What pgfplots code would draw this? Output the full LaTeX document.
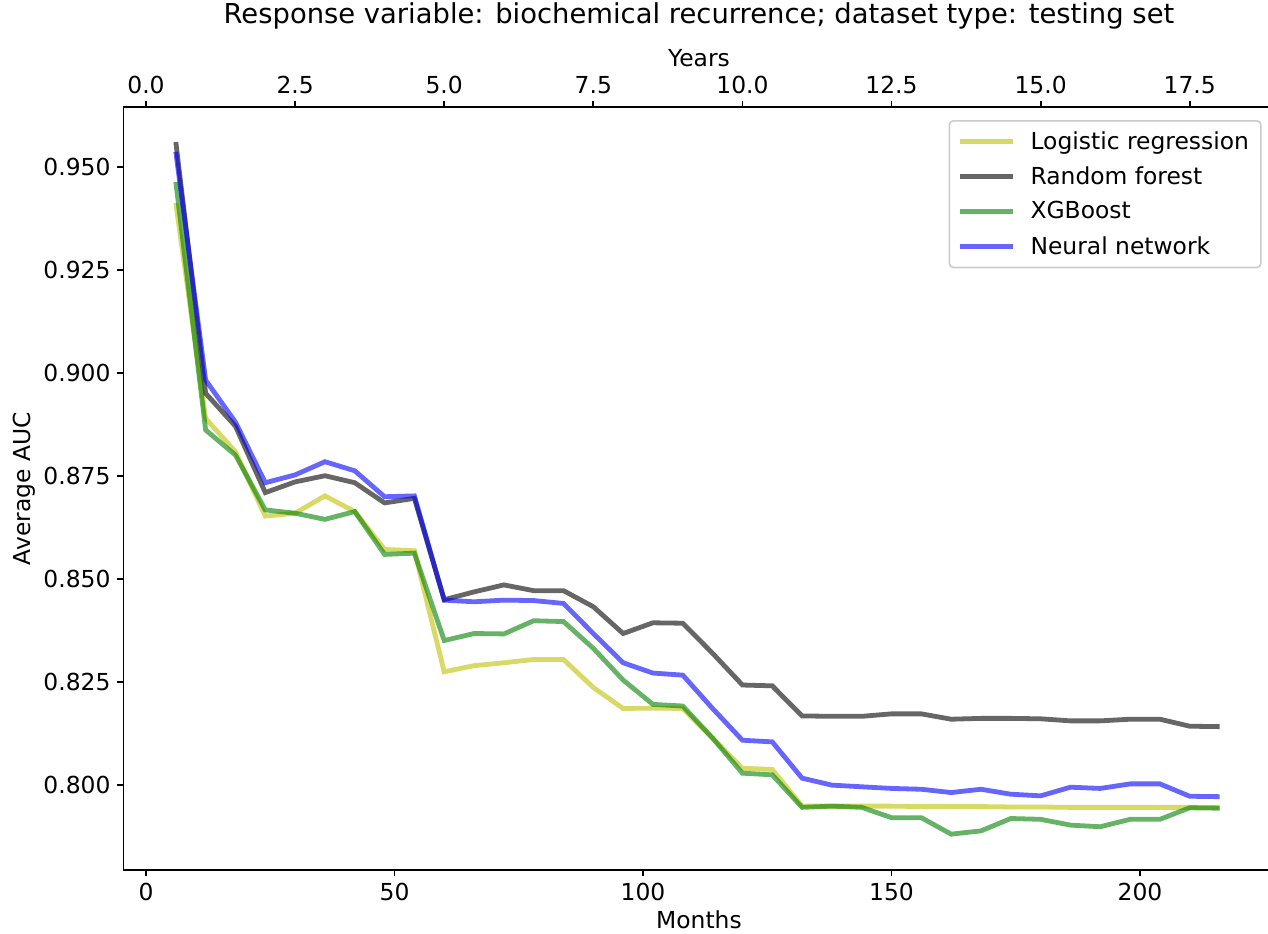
\documentclass[border=0pt]{standalone}
\usepackage{pgfplots}
\usepackage{pgfplotstable}
\pgfplotsset{compat=1.18}
\usepackage{fontspec}
\setmainfont{DejaVu Sans}

\definecolor{cY}{rgb}{0.75,0.75,0}
\definecolor{cK}{rgb}{0,0,0}
\definecolor{cG}{rgb}{0,0.5,0}
\definecolor{cB}{rgb}{0,0,1}

\pgfplotstableread{
m    lr      rf      xgb     nn
6    0.9412  0.9560  0.9463  0.9536
12   0.8889  0.8950  0.8861  0.8982
18   0.8808  0.8870  0.8800  0.8880
24   0.8652  0.8709  0.8667  0.8733
30   0.8659  0.8735  0.8659  0.8752
36   0.8701  0.8750  0.8644  0.8784
42   0.8663  0.8733  0.8663  0.8762
48   0.8571  0.8684  0.8559  0.8699
54   0.8568  0.8695  0.8562  0.8701
60   0.8274  0.8449  0.8350  0.8448
66   0.8289  0.8468  0.8367  0.8444
72   0.8296  0.8485  0.8366  0.8448
78   0.8304  0.8471  0.8398  0.8447
84   0.8304  0.8471  0.8396  0.8440
90   0.8236  0.8432  0.8331  0.8367
96   0.8185  0.8367  0.8254  0.8296
102  0.8186  0.8393  0.8195  0.8271
108  0.8185  0.8392  0.8191  0.8266
114  0.8113  0.8319  0.8113  0.8185
120  0.8040  0.8242  0.8028  0.8108
126  0.8037  0.8240  0.8024  0.8104
132  0.7948  0.8167  0.7945  0.8016
138  0.7948  0.8166  0.7948  0.7999
144  0.7948  0.8166  0.7945  0.7995
150  0.7948  0.8172  0.7920  0.7991
156  0.7947  0.8172  0.7920  0.7989
162  0.7947  0.8159  0.7880  0.7981
168  0.7947  0.8161  0.7888  0.7989
174  0.7946  0.8161  0.7918  0.7977
180  0.7946  0.8160  0.7916  0.7973
186  0.7945  0.8155  0.7902  0.7994
192  0.7945  0.8155  0.7898  0.7991
198  0.7945  0.8159  0.7916  0.8002
204  0.7945  0.8159  0.7916  0.8002
210  0.7945  0.8142  0.7944  0.7972
216  0.7945  0.8141  0.7943  0.7971
}\datatable

\newcommand{\fs}{\fontsize{11.7pt}{14pt}\selectfont}

\begin{document}
\begin{tikzpicture}
\useasboundingbox (-61.75pt,-31.5pt) rectangle (572.25pt,435pt);
\pgfplotsset{
  common/.style={
    scale only axis, width=572.25pt, height=381.35pt,
    ymin=0.7793, ymax=0.96442,
    axis line style={-, line width=0.9pt, black},
    tick align=outside, major tick length=3pt,
    every tick/.style={black, line width=0.9pt},
    tick label style={font=\fs},
    label style={font=\fs},
    /pgf/number format/assume math mode=true,
  }
}
\begin{axis}[common,
  xmin=-4.53, xmax=225.75,
  axis x line*=bottom, axis y line*=left,
  xtick={0,50,100,150,200},
  ytick={0.800,0.825,0.850,0.875,0.900,0.925,0.950},
  yticklabel style={/pgf/number format/.cd, fixed, fixed zerofill, precision=3},
  xlabel={Months},
  xlabel style={at={(axis description cs:0.5028,0)}, anchor=center, yshift=-25pt},
  ylabel={Average AUC},
  ylabel style={at={(axis description cs:-0.0870,0.5)}, anchor=center},
  legend style={at={(axis description cs:0.9945,0.9833)}, anchor=north east,
    draw=black!20, rounded corners=2pt, line width=0.8pt, font=\fs,
    inner xsep=4pt, inner ysep=3.2pt, row sep=3.2pt},
  legend cell align=left,
  legend image code/.code={\draw[#1] (0pt,0pt) -- (26.7pt,0pt); \path (32.2pt,0pt);},
]
\addplot[cY, line width=2.4pt, draw opacity=0.6] table[x=m, y=lr] {\datatable};
\addlegendentry{Logistic regression}
\addplot[cK, line width=2.4pt, draw opacity=0.6] table[x=m, y=rf] {\datatable};
\addlegendentry{Random forest}
\addplot[cG, line width=2.4pt, draw opacity=0.6] table[x=m, y=xgb] {\datatable};
\addlegendentry{XGBoost}
\addplot[cB, line width=2.4pt, draw opacity=0.6] table[x=m, y=nn] {\datatable};
\addlegendentry{Neural network}
\end{axis}
\begin{axis}[common,
  xmin=-0.3775, xmax=18.8125,
  axis x line*=top, axis y line=none,
  xtick={0,2.5,5,7.5,10,12.5,15,17.5},
  xticklabel style={/pgf/number format/.cd, fixed, fixed zerofill, precision=1},
  xlabel={Years},
  xlabel style={at={(axis description cs:0.5028,1)}, anchor=center, yshift=24.65pt},
  title={Response variable: biochemical recurrence; dataset type: testing set},
  title style={at={(axis description cs:0.5028,1)}, anchor=center, yshift=39.65pt, font=\fontsize{13.7pt}{16pt}\selectfont},
]
\end{axis}
\end{tikzpicture}
\end{document}
